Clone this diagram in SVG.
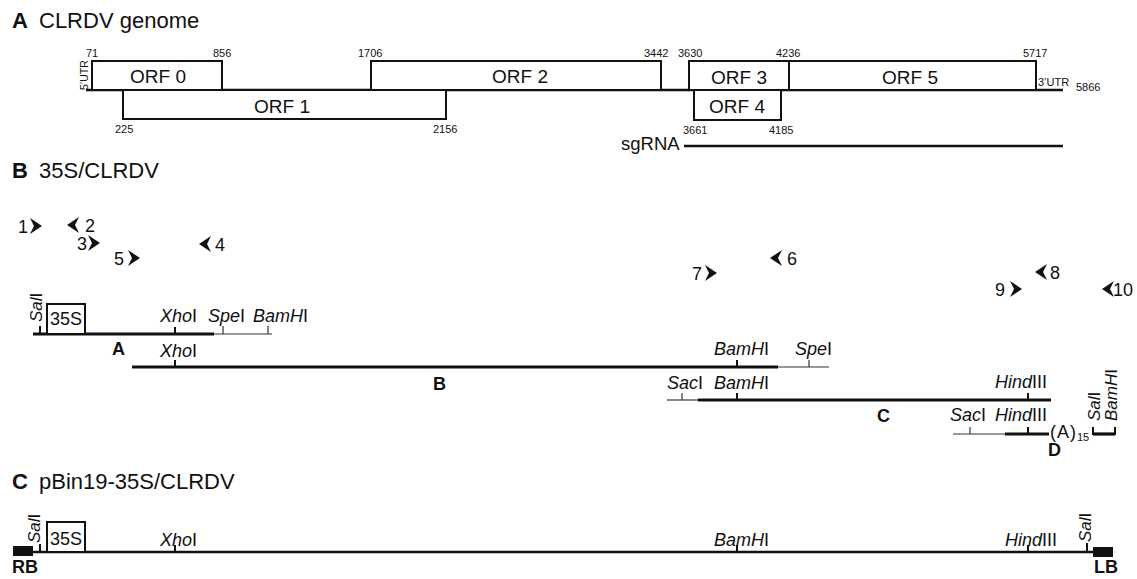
<svg xmlns="http://www.w3.org/2000/svg" width="1137" height="579" viewBox="0 0 1137 579">
<style>
.t{font-family:"Liberation Sans",Arial,sans-serif;fill:#111}
.ttl{font-size:22px}
.num{font-size:11px}
.orf{font-size:19px;text-anchor:middle}
.re{font-size:18px}
.rr{font-size:17px}
.pn{font-size:18px}
.it{font-style:italic}
.b{font-weight:bold}
.box{fill:#fff;stroke:#111;stroke-width:2}
.gl{stroke:#111;stroke-width:2.5;fill:none}
.thick{stroke:#111;stroke-width:3.2;fill:none}
.thin{stroke:#333;stroke-width:1.2;fill:none}
.tk{stroke:#111;stroke-width:2}
.tkt{stroke:#333;stroke-width:1.2}
.blk{fill:#111}
</style>
<defs>
<path id="pr" d="M0,-8 L12,0 L0,8 L4,0 Z" fill="#111"/>
<path id="pl" d="M12,-8 L0,0 L12,8 L8,0 Z" fill="#111"/>
</defs>
<rect width="1137" height="579" fill="#fff"/>

<!-- Titles -->
<g id="titles">
<text class="t ttl" x="12" y="28"><tspan class="b">A</tspan><tspan x="39">CLRDV genome</tspan></text>
<text class="t ttl" x="12" y="178"><tspan class="b">B</tspan><tspan x="39">35S/CLRDV</tspan></text>
<text class="t ttl" x="12" y="489"><tspan class="b">C</tspan><tspan x="39">pBin19-35S/CLRDV</tspan></text>
</g>

<!-- Connectors / backbone lines -->
<g id="connectors">
<line class="gl" x1="86" y1="90" x2="1063" y2="90"/>
<line class="gl" x1="684" y1="146" x2="1063" y2="146"/>
<line class="thick" x1="33" y1="334" x2="214" y2="334"/>
<line class="thin" x1="214" y1="334" x2="272" y2="334"/>
<line class="thick" x1="132" y1="367" x2="778" y2="367"/>
<line class="thin" x1="778" y1="367" x2="829" y2="367"/>
<line class="thin" x1="667" y1="400" x2="698" y2="400"/>
<line class="thick" x1="698" y1="400" x2="1051" y2="400"/>
<line class="thin" x1="953" y1="434" x2="1005" y2="434"/>
<line class="thick" x1="1005" y1="434" x2="1049" y2="434"/>
<line class="thick" x1="1093" y1="434" x2="1115" y2="434"/>
<line class="tk" x1="1093" y1="427" x2="1093" y2="435"/>
<line class="tk" x1="1115" y1="427" x2="1115" y2="435"/>
<line class="gl" x1="33" y1="552" x2="1093" y2="552"/>
</g>

<!-- Panel A: ORFs -->
<g id="orf0">
<rect class="box" x="92" y="61" width="130" height="29"/>
<text class="t orf" x="158" y="83">ORF 0</text>
<text class="t num" x="86" y="57">71</text>
<text class="t num" x="213" y="57">856</text>
<text class="t" font-size="10.5" transform="translate(88,90) rotate(-90)">5’UTR</text>
</g>
<g id="orf1">
<rect class="box" x="123" y="90" width="323" height="29"/>
<text class="t orf" x="282" y="113">ORF 1</text>
<text class="t num" x="115" y="133">225</text>
<text class="t num" x="433" y="133">2156</text>
</g>
<g id="orf2">
<rect class="box" x="371" y="61" width="290" height="29"/>
<text class="t orf" x="520" y="83">ORF 2</text>
<text class="t num" x="358" y="57">1706</text>
<text class="t num" x="644" y="57">3442</text>
</g>
<g id="orf3">
<rect class="box" x="689" y="61" width="100" height="29"/>
<text class="t orf" x="739" y="84">ORF 3</text>
<text class="t num" x="678" y="57">3630</text>
</g>
<g id="orf5">
<rect class="box" x="789" y="61" width="247" height="29"/>
<text class="t orf" x="910" y="84">ORF 5</text>
<text class="t num" x="776" y="57">4236</text>
<text class="t num" x="1023" y="57">5717</text>
<text class="t num" x="1038" y="86">3’UTR</text>
<text class="t num" x="1076" y="91">5866</text>
</g>
<g id="orf4">
<rect class="box" x="694" y="90" width="87" height="30"/>
<text class="t orf" x="737" y="113">ORF 4</text>
<text class="t num" x="683" y="134">3661</text>
<text class="t num" x="769" y="134">4185</text>
</g>
<g id="sgrna">
<text class="t" font-size="18.5" x="621" y="150">sgRNA</text>
</g>

<!-- Panel B: primers -->
<g id="primers">
<use href="#pr" x="30" y="226"/><text class="t pn" x="18" y="233">1</text>
<use href="#pl" x="67" y="225"/><text class="t pn" x="85" y="232">2</text>
<use href="#pr" x="88" y="243"/><text class="t pn" x="77" y="250">3</text>
<use href="#pr" x="128" y="258"/><text class="t pn" x="114" y="265">5</text>
<use href="#pl" x="199" y="244"/><text class="t pn" x="215" y="251">4</text>
<use href="#pl" x="770" y="258"/><text class="t pn" x="787" y="265">6</text>
<use href="#pr" x="705" y="273"/><text class="t pn" x="692" y="280">7</text>
<use href="#pl" x="1035" y="272"/><text class="t pn" x="1050" y="279">8</text>
<use href="#pr" x="1010" y="289"/><text class="t pn" x="995" y="296">9</text>
<use href="#pl" x="1102" y="289"/><text class="t pn" x="1113" y="296">10</text>
</g>

<!-- Fragment A -->
<g id="fragA">
<line class="tk" x1="40" y1="326" x2="40" y2="334"/>
<text class="t rr" transform="translate(42,322) rotate(-90)"><tspan class="it">Sal</tspan>I</text>
<rect class="box" x="47" y="304" width="38" height="30"/>
<text class="t" font-size="18" x="50" y="325">35S</text>
<line class="tk" x1="175" y1="327" x2="175" y2="334"/>
<text class="t re" x="160" y="322"><tspan class="it">Xho</tspan>I</text>
<line class="tkt" x1="223" y1="326" x2="223" y2="334"/>
<text class="t re" x="208" y="322"><tspan class="it">Spe</tspan>I</text>
<line class="tkt" x1="268" y1="326" x2="268" y2="334"/>
<text class="t re" x="253" y="322"><tspan class="it">BamH</tspan>I</text>
<text class="t re b" x="112" y="355">A</text>
</g>

<!-- Fragment B -->
<g id="fragB">
<line class="tk" x1="175" y1="360" x2="175" y2="367"/>
<text class="t re" x="160" y="357"><tspan class="it">Xho</tspan>I</text>
<line class="tk" x1="737" y1="360" x2="737" y2="367"/>
<text class="t re" x="714" y="355"><tspan class="it">BamH</tspan>I</text>
<line class="tkt" x1="809" y1="360" x2="809" y2="367"/>
<text class="t re" x="795" y="355"><tspan class="it">Spe</tspan>I</text>
<text class="t re b" x="433" y="390">B</text>
</g>

<!-- Fragment C -->
<g id="fragC">
<line class="tkt" x1="682" y1="393" x2="682" y2="400"/>
<text class="t re" x="667" y="389"><tspan class="it">Sac</tspan>I</text>
<line class="tk" x1="737" y1="393" x2="737" y2="400"/>
<text class="t re" x="714" y="389"><tspan class="it">BamH</tspan>I</text>
<line class="tk" x1="1028" y1="393" x2="1028" y2="400"/>
<text class="t re" x="995" y="388"><tspan class="it">Hind</tspan>III</text>
<text class="t re b" x="877" y="422">C</text>
</g>

<!-- Fragment D -->
<g id="fragD">
<line class="tkt" x1="970" y1="427" x2="970" y2="434"/>
<text class="t re" x="950" y="421"><tspan class="it">Sac</tspan>I</text>
<line class="tk" x1="1028" y1="427" x2="1028" y2="434"/>
<text class="t re" x="995" y="421"><tspan class="it">Hind</tspan>III</text>
<text class="t re" x="1050" y="438" letter-spacing="1">(A)<tspan font-size="11" dy="3" letter-spacing="0">15</tspan></text>
<text class="t rr" transform="translate(1100,421) rotate(-90)"><tspan class="it">Sal</tspan>I</text>
<text class="t rr" transform="translate(1117,421) rotate(-90)"><tspan class="it">BamH</tspan>I</text>
<text class="t re b" x="1048" y="456">D</text>
</g>

<!-- Panel C -->
<g id="vector">
<rect class="blk" x="13" y="546" width="20" height="10"/>
<text class="t re b" x="12" y="573">RB</text>
<rect class="blk" x="1093" y="547" width="20" height="10"/>
<text class="t re b" x="1094" y="573">LB</text>
<line class="tk" x1="40" y1="544" x2="40" y2="552"/>
<text class="t rr" transform="translate(40,543) rotate(-90)"><tspan class="it">Sal</tspan>I</text>
<rect class="box" x="47" y="522" width="38" height="30"/>
<text class="t" font-size="18" x="50" y="545">35S</text>
<line class="tk" x1="175" y1="545" x2="175" y2="552"/>
<text class="t re" x="160" y="546"><tspan class="it">Xho</tspan>I</text>
<line class="tk" x1="737" y1="545" x2="737" y2="552"/>
<text class="t re" x="714" y="546"><tspan class="it">BamH</tspan>I</text>
<line class="tk" x1="1028" y1="545" x2="1028" y2="552"/>
<text class="t re" x="1005" y="546"><tspan class="it">Hind</tspan>III</text>
<line class="tk" x1="1087" y1="543" x2="1087" y2="552"/>
<text class="t rr" transform="translate(1091,542) rotate(-90)"><tspan class="it">Sal</tspan>I</text>
</g>
</svg>
